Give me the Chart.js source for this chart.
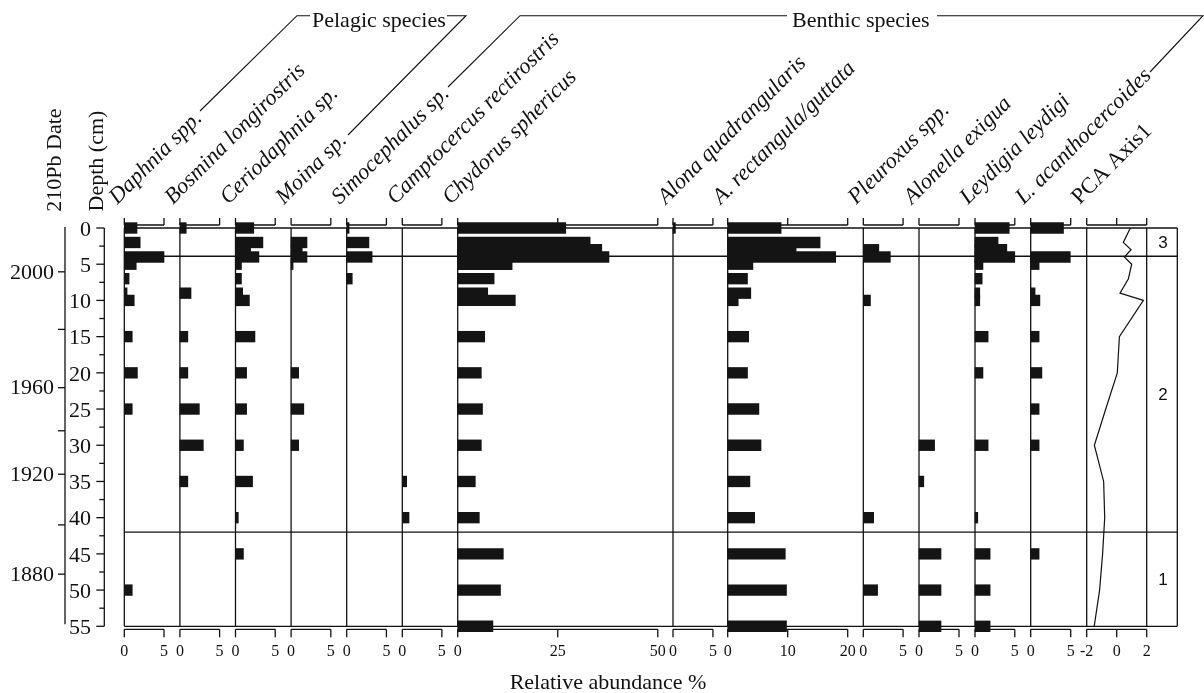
<!DOCTYPE html>
<html><head><meta charset="utf-8">
<script src="https://cdn.jsdelivr.net/npm/chart.js@4.4.1/dist/chart.umd.min.js"></script>
<style>html,body{margin:0;padding:0;background:#fff;}canvas{display:block;}</style>
</head><body>
<canvas id="c" width="1204" height="693"></canvas>
<script>
// ---- data ----
const depths = [0, 2, 3, 4, 5, 7, 9, 10, 15, 20, 25, 30, 35, 40, 45, 50, 55];
const daphnia      = [1.6, 2.0, 0, 5.0, 1.5, 0.6, 0.35, 1.25, 1.0, 1.65, 1.0, 0, 0, 0, 0, 1.0, 0];
const bosmina      = [0.8, 0, 0, 0, 0, 0, 1.4, 0, 1.0, 1.0, 2.45, 2.95, 1.0, 0, 0, 0, 0];
const ceriodaphnia = [2.3, 3.45, 1.9, 2.95, 0.75, 0.75, 0.9, 1.75, 2.45, 1.4, 1.4, 1.0, 2.15, 0.35, 1.0, 0, 0];
const moina        = [0, 2.0, 1.4, 2.0, 0.25, 0, 0, 0, 0, 0.95, 1.6, 0.95, 0, 0, 0, 0, 0];
const simocephalus = [0.3, 2.8, 0, 3.2, 0, 0.7, 0, 0, 0, 0, 0, 0, 0, 0, 0, 0, 0];
const camptocercus = [0, 0, 0, 0, 0, 0, 0, 0, 0, 0, 0, 0, 0.55, 0.85, 0, 0, 0];
const chydorus     = [27.0, 33.1, 36.0, 37.8, 13.6, 9.1, 7.5, 14.4, 6.75, 5.9, 6.2, 5.9, 4.4, 5.4, 11.4, 10.7, 8.8];
const alonaQuad    = [0.3, 0, 0, 0, 0, 0, 0, 0, 0, 0, 0, 0, 0, 0, 0, 0, 0];
const alonaRect    = [8.9, 15.4, 11.4, 18.0, 4.2, 3.3, 3.85, 1.75, 3.5, 3.3, 5.2, 5.55, 3.7, 4.5, 9.6, 9.8, 9.8];
const pleuroxus    = [0, 0, 1.95, 3.4, 0, 0, 0, 0.9, 0, 0, 0, 0, 0, 1.3, 0, 1.8, 0];
const alonella     = [0, 0, 0, 0, 0, 0, 0, 0, 0, 0, 0, 1.95, 0.6, 0, 2.75, 2.75, 2.75];
const leydigia     = [4.3, 2.9, 4.0, 5.0, 1.0, 0.9, 0.6, 0.6, 1.65, 1.0, 0, 1.65, 0, 0.35, 1.9, 1.9, 1.9];
const lAcantho     = [4.1, 0, 0, 4.95, 1.05, 0, 0.55, 1.15, 1.05, 1.4, 1.05, 1.05, 0, 0, 1.05, 0, 0];
const pcaAxis1     = [0.91, 0.44, 0.96, 0.51, 1.0, 0.78, 0.22, 1.78, 0.18, 0.04, -0.73, -1.49, -0.87, -0.8, -0.94, -1.14, -1.5];

const speciesNames = ["Daphnia spp.", "Bosmina longirostris", "Ceriodaphnia sp.", "Moina sp.", "Simocephalus sp.",
  "Camptocercus rectirostris", "Chydorus sphericus", "Alona quadrangularis", "A. rectangula/guttata",
  "Pleuroxus spp.", "Alonella exigua", "Leydigia leydigi", "L. acanthocercoides", "PCA Axis1"];

const ticks5 = [0, 5];
const ticksChydorus = [0, 25, 50];
const ticksRect = [0, 10, 20];
const ticksPca = [-2, 0, 2];
const depthTicks = [0, 5, 10, 15, 20, 25, 30, 35, 40, 45, 50, 55];
const depthMinorTicks = [2.5, 7.5, 12.5, 17.5, 22.5, 27.5, 32.5, 37.5, 42.5, 47.5, 52.5];
const dateYears  = [2000, 1980, 1960, 1940, 1920, 1900, 1880];
const dateDepths = [6.05, 14.0, 22.05, 28.0, 34.0, 41.0, 47.8];
const dateShown  = [true, false, true, false, true, false, true];
const zoneBounds = [3.9, 42.0];
const zoneLabels = ["3", "2", "1"];
const groupTitles = ["Pelagic species", "Benthic species"];
const xTitle = "Relative abundance %";

// ---- panel layout ----
const panels = [
  {vals: daphnia, min: 0, max: 7, w: 55.6, t: ticks5},
  {vals: bosmina, min: 0, max: 7, w: 55.6, t: ticks5},
  {vals: ceriodaphnia, min: 0, max: 7, w: 55.6, t: ticks5},
  {vals: moina, min: 0, max: 7, w: 55.6, t: ticks5},
  {vals: simocephalus, min: 0, max: 7, w: 55.6, t: ticks5},
  {vals: camptocercus, min: 0, max: 7, w: 55.4, t: ticks5},
  {vals: chydorus, min: 0, max: 53.8, w: 215.3, t: ticksChydorus},
  {vals: alonaQuad, min: 0, max: 6.85, w: 54.7, t: ticks5},
  {vals: alonaRect, min: 0, max: 22.6, w: 135.6, t: ticksRect},
  {vals: pleuroxus, min: 0, max: 7, w: 55.7, t: ticks5},
  {vals: alonella, min: 0, max: 7, w: 56, t: ticks5},
  {vals: leydigia, min: 0, max: 7, w: 55.7, t: ticks5},
  {vals: lAcantho, min: 0, max: 7, w: 56, t: ticks5},
  {vals: pcaAxis1, min: -2, max: 2, w: 60, t: ticksPca, line: true},
  {vals: null, min: 0, max: 1, w: 30.6, t: [], zone: true}
];

const SERIF = '"Liberation Serif", "Times New Roman", Times, serif';
const SANS = '"Liberation Sans", Arial, sans-serif';
const INK = '#111';

const scales = {y: {type: 'linear', reverse: true, min: 0, max: 55, offset: false, display: false}};
const datasets = [];
panels.forEach((p, i) => {
  const id = 'x' + i;
  scales[id] = {
    type: 'linear', axis: 'x', position: 'bottom', stack: 'panels', stackWeight: p.w,
    min: p.min, max: p.max, offset: false,
    grid: {display: false, drawTicks: false}, border: {display: false},
    ticks: {display: p.t.length > 0, autoSkip: false, maxRotation: 0, minRotation: 0, padding: 16,
      color: INK, font: {family: SERIF, size: 16}, callback: v => String(v)},
    afterBuildTicks: s => { s.ticks = p.t.map(v => ({value: v})); },
    afterFit: s => { s.height = 45; }
  };
  if (p.zone) return;
  if (p.line) {
    datasets.push({type: 'line', indexAxis: 'y', xAxisID: id, yAxisID: 'y',
      data: depths.map((d, k) => ({x: p.vals[k], y: d})),
      borderColor: INK, borderWidth: 1.2, pointRadius: 0, tension: 0, fill: false, clip: false});
  } else {
    datasets.push({type: 'bar', indexAxis: 'y', xAxisID: id, yAxisID: 'y',
      data: depths.map((d, k) => ({x: p.vals[k] === 0 ? null : p.vals[k], y: d})),
      backgroundColor: '#141414', borderWidth: 0, barThickness: 10.7, grouped: false, clip: false});
  }
});

function line(ctx, pts) {
  ctx.beginPath();
  ctx.moveTo(pts[0][0], pts[0][1]);
  for (let i = 1; i < pts.length; i++) ctx.lineTo(pts[i][0], pts[i][1]);
  ctx.stroke();
}

const diagram = {
  id: 'diagram',
  beforeDatasetsDraw(chart) {
    const ctx = chart.ctx, a = chart.chartArea, ys = chart.scales.y;
    ctx.save();
    ctx.strokeStyle = INK; ctx.lineWidth = 1.3;
    line(ctx, [[a.left, a.top], [a.right, a.top]]);
    line(ctx, [[a.left, a.bottom], [a.right, a.bottom]]);
    line(ctx, [[a.right, a.top], [a.right, a.bottom]]);
    zoneBounds.forEach(z => { const y = ys.getPixelForValue(z); line(ctx, [[a.left, y], [a.right, y]]); });
    panels.forEach((p, i) => {
      if (p.zone) return;
      const s = chart.scales['x' + i];
      const x0 = s.getPixelForValue(p.line ? p.min : 0);
      line(ctx, [[x0, a.top], [x0, a.bottom]]);
      if (p.line) { const x2 = s.getPixelForValue(p.max); line(ctx, [[x2, a.top], [x2, a.bottom]]); }
      const tx = p.t.map(v => s.getPixelForValue(v));
      line(ctx, [[tx[0], a.top - 3], [tx[tx.length - 1], a.top - 3]]);
      tx.forEach(x => line(ctx, [[x, a.top - 3], [x, a.top - 10]]));
      line(ctx, [[tx[0], a.bottom + 3], [tx[tx.length - 1], a.bottom + 3]]);
      tx.forEach(x => line(ctx, [[x, a.bottom + 3], [x, a.bottom + 11]]));
    });
    const dx = 104.3;
    line(ctx, [[dx, ys.getPixelForValue(0)], [dx, ys.getPixelForValue(55)]]);
    depthTicks.forEach(d => { const y = ys.getPixelForValue(d); line(ctx, [[dx - 8, y], [dx, y]]); });
    depthMinorTicks.forEach(d => { const y = ys.getPixelForValue(d); line(ctx, [[dx - 5, y], [dx, y]]); });
    const tx2 = 65;
    line(ctx, [[tx2, ys.getPixelForValue(0) - 1], [tx2, ys.getPixelForValue(55) - 2]]);
    dateDepths.forEach(d => { const y = ys.getPixelForValue(d); line(ctx, [[tx2 - 7, y], [tx2, y]]); });
    ctx.lineWidth = 1.1;
    line(ctx, [[200, 111], [297, 15.7], [310, 15.7]]);
    line(ctx, [[447, 15.7], [466, 15.7], [348, 135]]);
    line(ctx, [[448, 87], [520, 15.7], [787, 15.7]]);
    line(ctx, [[937, 15.7], [1203, 15.7], [1150, 72]]);
    ctx.restore();
  },
  afterDraw(chart) {
    const ctx = chart.ctx, a = chart.chartArea, ys = chart.scales.y;
    ctx.save();
    ctx.fillStyle = INK;
    ctx.font = '22px ' + SERIF; ctx.textAlign = 'left'; ctx.textBaseline = 'alphabetic';
    ctx.fillText(groupTitles[0], 312, 27);
    ctx.fillText(groupTitles[1], 792, 27);
    panels.forEach((p, i) => {
      if (p.zone) return;
      const s = chart.scales['x' + i];
      const x0 = s.getPixelForValue(p.line ? p.min : 0);
      ctx.save();
      ctx.translate(x0 - 7, 205);
      ctx.rotate(-Math.PI / 4);
      ctx.font = (p.line ? '' : 'italic ') + '22.5px ' + SERIF;
      ctx.textAlign = 'left'; ctx.textBaseline = 'alphabetic';
      ctx.fillText(speciesNames[i], 0, 0);
      ctx.restore();
    });
    ctx.font = '22px ' + SERIF; ctx.textAlign = 'right'; ctx.textBaseline = 'middle';
    depthTicks.forEach(d => ctx.fillText(String(d), 91, ys.getPixelForValue(d) + 2));
    dateYears.forEach((yr, k) => { if (dateShown[k]) ctx.fillText(String(yr), 54, ys.getPixelForValue(dateDepths[k]) + 1); });
    ctx.textAlign = 'center';
    ctx.save(); ctx.translate(55, 160); ctx.rotate(-Math.PI / 2); ctx.fillText('210Pb Date', 0, 0); ctx.restore();
    ctx.save(); ctx.translate(97, 161); ctx.rotate(-Math.PI / 2); ctx.fillText('Depth (cm)', 0, 0); ctx.restore();
    ctx.fillText(xTitle, 608, 683);
    ctx.font = '17px ' + SANS;
    const zx = (chart.scales['x14'].left + chart.scales['x14'].right) / 2 + 1;
    const zb = [0].concat(zoneBounds, [55]);
    zoneLabels.forEach((z, k) => ctx.fillText(z, zx, ys.getPixelForValue((zb[k] + zb[k + 1]) / 2) + 1));
    ctx.restore();
  }
};

new Chart(document.getElementById('c'), {
  type: 'bar',
  data: {labels: depths, datasets},
  options: {
    indexAxis: 'y', responsive: false, animation: false, devicePixelRatio: 1,
    layout: {padding: {left: 124.3, right: 26.7, top: 228, bottom: 21.7}},
    plugins: {legend: {display: false}, tooltip: {enabled: false}},
    scales
  },
  plugins: [diagram]
});
</script>
</body></html>
